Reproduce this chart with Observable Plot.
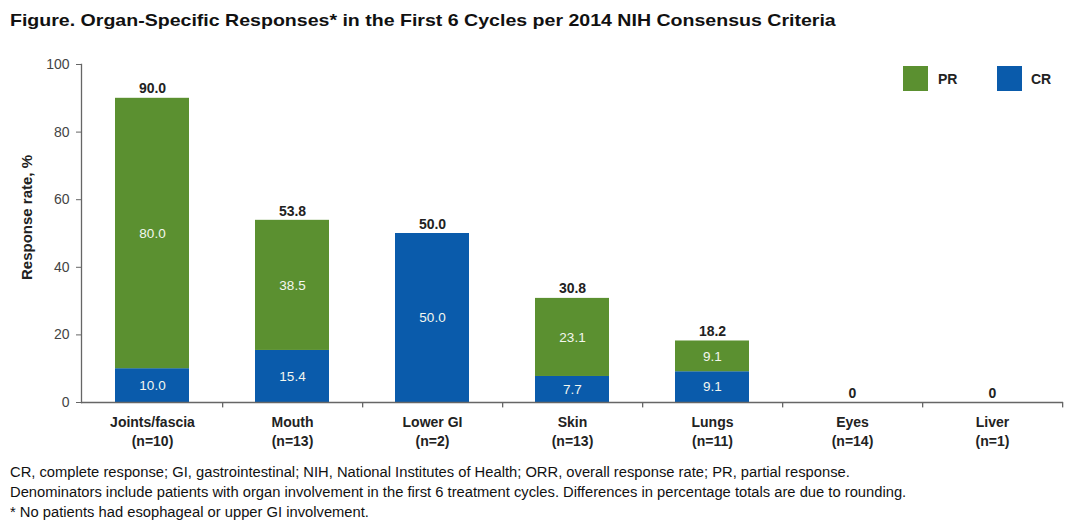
<!DOCTYPE html>
<html><head><meta charset="utf-8">
<script src="https://cdn.jsdelivr.net/npm/d3@7"></script>
<script src="https://cdn.jsdelivr.net/npm/@observablehq/plot@0.6"></script>
<style>
body{margin:0;background:#fff;font-family:"Liberation Sans",Arial,sans-serif;}
#wrap{position:relative;width:1080px;height:527px;overflow:hidden;}
#title{position:absolute;left:10px;top:11px;font-weight:bold;font-size:17px;color:#111;white-space:nowrap;transform:scaleX(1.15);transform-origin:left top;}
#chart{position:absolute;left:0;top:44px;}
.sw{position:absolute;width:25px;height:25px;}
.lt{position:absolute;font-weight:bold;font-size:14px;color:#222;line-height:16px;}
#notes{position:absolute;left:10px;top:462px;font-size:14px;line-height:20px;color:#111;white-space:nowrap;transform:scaleX(1.053);transform-origin:left top;}
</style></head>
<body>
<div id="wrap">
  <div id="title">Figure. Organ-Specific Responses* in the First 6 Cycles per 2014 NIH Consensus Criteria</div>
  <div id="chart"></div>
  <div class="sw" style="left:903px;top:66px;background:#5b9030"></div>
  <div class="lt" style="left:938px;top:71px">PR</div>
  <div class="sw" style="left:997px;top:66px;background:#0a5bab"></div>
  <div class="lt" style="left:1031px;top:71px">CR</div>
  <div id="notes">CR, complete response; GI, gastrointestinal; NIH, National Institutes of Health; ORR, overall response rate; PR, partial response.<br>Denominators include patients with organ involvement in the first 6 treatment cycles. Differences in percentage totals are due to rounding.<br>* No patients had esophageal or upper GI involvement.</div>
</div>
<script>
const categories = ["Joints/fascia", "Mouth", "Lower GI", "Skin", "Lungs", "Eyes", "Liver"];
const nLabels = ["(n=10)", "(n=13)", "(n=2)", "(n=13)", "(n=11)", "(n=14)", "(n=1)"];
const crValues = [10.0, 15.4, 50.0, 7.7, 9.1, 0, 0];
const prValues = [80.0, 38.5, 0, 23.1, 9.1, 0, 0];
const totals = [90.0, 53.8, 50.0, 30.8, 18.2, 0, 0];
const totalLabels = ["90.0", "53.8", "50.0", "30.8", "18.2", "0", "0"];
const yTicks = [0, 20, 40, 60, 80, 100];

const green = "#5b9030", blue = "#0a5bab";

const segments = [];
categories.forEach((c, i) => {
  if (crValues[i] > 0) segments.push({cat: c, type: "CR", y1: 0, y2: crValues[i], v: crValues[i]});
  if (prValues[i] > 0) segments.push({cat: c, type: "PR", y1: crValues[i], y2: crValues[i] + prValues[i], v: prValues[i]});
});

const W = 1080, H = 410, mL = 81, mR = 17;
const step = (W - mL - mR) / categories.length;

const chart = Plot.plot({
  width: W, height: H,
  marginLeft: mL, marginRight: mR, marginTop: 20, marginBottom: 52,
  style: {fontFamily: '"Liberation Sans", Arial, sans-serif', fontSize: "14px", color: "#333", background: "#fff"},
  x: {domain: categories, paddingInner: 0.47, paddingOuter: 0.235},
  y: {domain: [0, 100]},
  color: {domain: ["PR", "CR"], range: [green, blue]},
  marks: [
    Plot.barY(segments, {x: "cat", y1: "y1", y2: "y2", fill: "type"}),
    Plot.text(segments, {x: "cat", y: d => (d.y1 + d.y2) / 2, text: d => d.v.toFixed(1), fill: "#f4f7ef", fontSize: 13.5}),
    Plot.text(categories, {x: d => d, y: (d, i) => totals[i], text: (d, i) => totalLabels[i], lineAnchor: "bottom", dy: -5, fontWeight: "bold", fontSize: 14, fill: "#222"}),
    Plot.ruleY([0], {stroke: "#666", strokeWidth: 1.3}),
    Plot.frame({anchor: "left", stroke: "#666", strokeWidth: 1.3}),
    Plot.ruleX(categories, {x: d => d, dx: step / 2, y1: 0, y2: -1.6, stroke: "#666", strokeWidth: 1.3}),
    Plot.axisY({ticks: yTicks, tickSize: 5, tickPadding: 7, fontSize: 14, fill: "#444", stroke: "#666", label: null}),
    Plot.axisX({tickSize: 0, tickPadding: 12, tickFormat: (d, i) => d + "\n" + nLabels[i], fontWeight: "bold", fontSize: 14, lineHeight: 1.3, fill: "#222", label: null}),
    Plot.text(["Response rate, %"], {frameAnchor: "left", textAnchor: "middle", rotate: -90, dx: -54, dy: -16, fontWeight: "bold", fontSize: 15, fill: "#222"})
  ]
});
document.getElementById("chart").appendChild(chart);
</script>
</body></html>
